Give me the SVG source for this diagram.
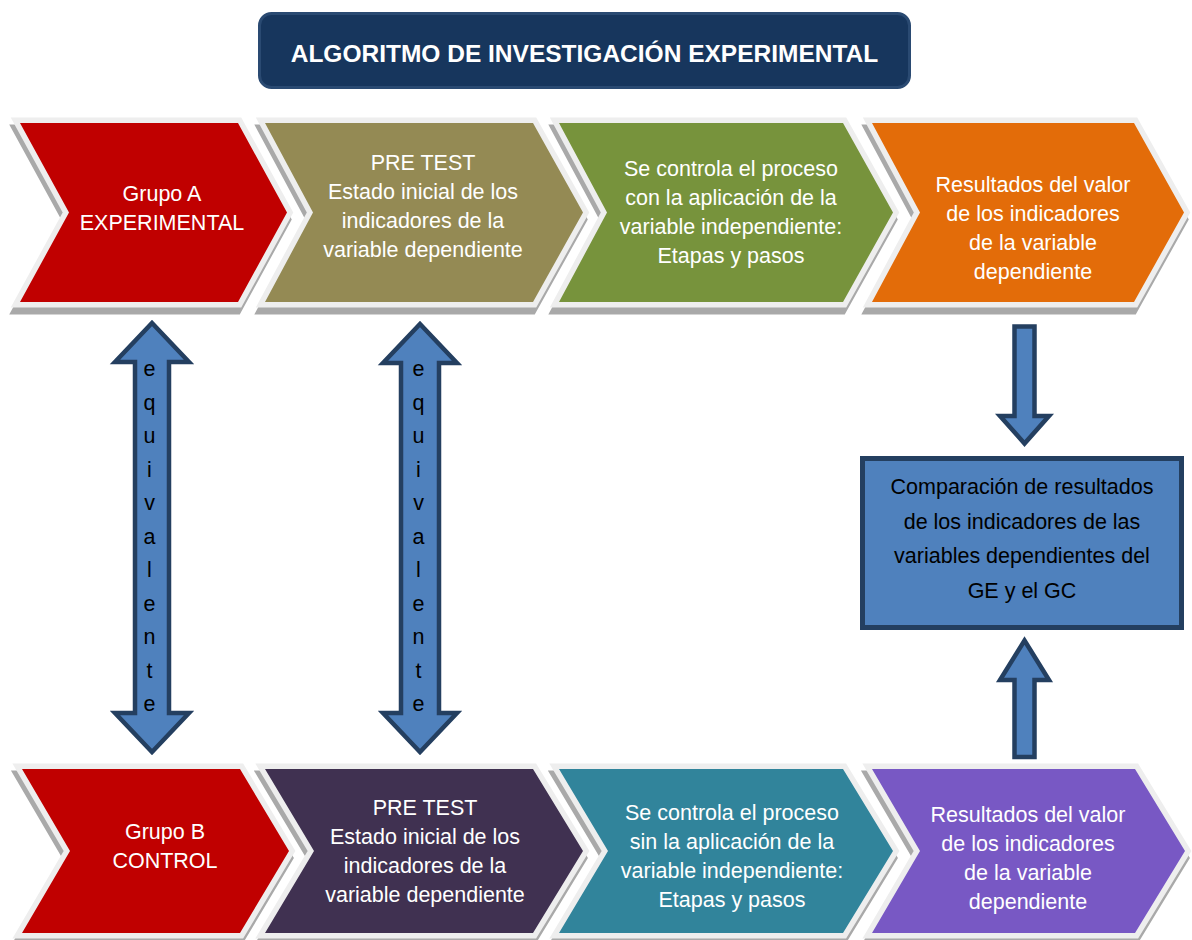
<svg xmlns="http://www.w3.org/2000/svg" width="1192" height="940" viewBox="0 0 1192 940">
<style>
  .sh { fill: #a9a9a9; stroke: #a9a9a9; stroke-width: 11; stroke-linejoin: miter; }
  .ch { stroke: #eeeeee; stroke-width: 11; stroke-linejoin: miter; paint-order: stroke; }
  .t { font-family: "Liberation Sans", Arial, sans-serif; font-size: 21.5px; fill: #ffffff; text-anchor: middle; }
  .k { font-family: "Liberation Sans", Arial, sans-serif; font-size: 21.5px; fill: #000000; text-anchor: middle; }
  .arr { fill: #4f81bd; stroke: #243f60; stroke-width: 4.5; stroke-linejoin: miter; }
  .ttl { font-family: "Liberation Sans", Arial, sans-serif; font-size: 24.5px; font-weight: bold; fill: #ffffff; text-anchor: middle; }
</style>
<rect width="1192" height="940" fill="#ffffff"/>

<g id="title">
  <rect x="259.5" y="13.5" width="650" height="74" rx="12" fill="#17365d" stroke="#2a4a72" stroke-width="3"/>
  <text class="ttl" x="584.5" y="62">ALGORITMO DE INVESTIGACIÓN EXPERIMENTAL</text>
</g>

<g id="ge-grupo">
  <polygon class="sh" transform="translate(-1.5,7)" points="20,123 238,123 287,212.5 238,302 20,302 69,212.5"/>
  <polygon class="ch" fill="#c00000" points="20,123 238,123 287,212.5 238,302 20,302 69,212.5"/>
  <text class="t"><tspan x="162" y="201">Grupo A</tspan><tspan x="162" y="230">EXPERIMENTAL</tspan></text>
</g>
<g id="ge-pretest">
  <polygon class="sh" transform="translate(-1.5,7)" points="265,123 533,123 583,212.5 533,302 265,302 313,212.5"/>
  <polygon class="ch" fill="#948a54" points="265,123 533,123 583,212.5 533,302 265,302 313,212.5"/>
  <text class="t"><tspan x="423" y="170">PRE TEST</tspan><tspan x="423" y="199">Estado inicial de los</tspan><tspan x="423" y="228">indicadores de la</tspan><tspan x="423" y="257">variable dependiente</tspan></text>
</g>
<g id="ge-proceso">
  <polygon class="sh" transform="translate(-1.5,7)" points="559,123 843,123 893,212.5 843,302 559,302 607,212.5"/>
  <polygon class="ch" fill="#77933c" points="559,123 843,123 893,212.5 843,302 559,302 607,212.5"/>
  <text class="t"><tspan x="731" y="176">Se controla el proceso</tspan><tspan x="731" y="205">con la aplicación de la</tspan><tspan x="731" y="234">variable independiente:</tspan><tspan x="731" y="263">Etapas y pasos</tspan></text>
</g>
<g id="ge-resultados">
  <polygon class="sh" transform="translate(-1.5,7)" points="872,123 1134,123 1184,212.5 1134,302 872,302 920,212.5"/>
  <polygon class="ch" fill="#e36c09" points="872,123 1134,123 1184,212.5 1134,302 872,302 920,212.5"/>
  <text class="t"><tspan x="1033" y="192">Resultados del valor</tspan><tspan x="1033" y="221">de los indicadores</tspan><tspan x="1033" y="250">de la variable</tspan><tspan x="1033" y="279">dependiente</tspan></text>
</g>

<g id="comparacion">
  <rect x="862.5" y="458.5" width="319" height="169" fill="#4f81bd" stroke="#243f60" stroke-width="5"/>
  <text class="k"><tspan x="1022" y="494">Comparación de resultados</tspan><tspan x="1022" y="528.5">de los indicadores de las</tspan><tspan x="1022" y="563">variables dependientes del</tspan><tspan x="1022" y="597.5">GE y el GC</tspan></text>
</g>

<g id="connectors">
  <g id="equiv-1">
    <path class="arr" d="M152,323 L189,362 L169,362 L169,713 L189,713 L152,752 L115,713 L135,713 L135,362 L115,362 Z"/>
    <text class="k"><tspan x="149.5" y="376">e</tspan><tspan x="149.5" y="409.5">q</tspan><tspan x="149.5" y="443">u</tspan><tspan x="149.5" y="476.5">i</tspan><tspan x="149.5" y="510">v</tspan><tspan x="149.5" y="543.5">a</tspan><tspan x="149.5" y="577">l</tspan><tspan x="149.5" y="610.5">e</tspan><tspan x="149.5" y="644">n</tspan><tspan x="149.5" y="677.5">t</tspan><tspan x="149.5" y="711">e</tspan></text>
  </g>
  <g id="equiv-2">
    <path class="arr" d="M420,324 L457,363 L439,363 L439,713 L457,713 L420,752 L383,713 L401,713 L401,363 L383,363 Z"/>
    <text class="k"><tspan x="418.5" y="376">e</tspan><tspan x="418.5" y="409.5">q</tspan><tspan x="418.5" y="443">u</tspan><tspan x="418.5" y="476.5">i</tspan><tspan x="418.5" y="510">v</tspan><tspan x="418.5" y="543.5">a</tspan><tspan x="418.5" y="577">l</tspan><tspan x="418.5" y="610.5">e</tspan><tspan x="418.5" y="644">n</tspan><tspan x="418.5" y="677.5">t</tspan><tspan x="418.5" y="711">e</tspan></text>
  </g>
  <path id="arrow-down" class="arr" d="M1014.5,326.5 L1034.5,326.5 L1034.5,416 L1049,416 L1024.5,443.5 L1000,416 L1014.5,416 Z"/>
  <path id="arrow-up" class="arr" d="M1024.5,640.5 L1049,680 L1034.5,680 L1034.5,757 L1014.5,757 L1014.5,680 L1000,680 Z"/>
</g>

<g id="gc-grupo">
  <polygon class="sh" transform="translate(-1.5,7)" points="22,769 240,769 289,851 240,933 22,933 70,851"/>
  <polygon class="ch" fill="#c00000" points="22,769 240,769 289,851 240,933 22,933 70,851"/>
  <text class="t"><tspan x="165" y="839">Grupo B</tspan><tspan x="165" y="868">CONTROL</tspan></text>
</g>
<g id="gc-pretest">
  <polygon class="sh" transform="translate(-1.5,7)" points="265,769 533,769 583,851 533,933 265,933 314,851"/>
  <polygon class="ch" fill="#403151" points="265,769 533,769 583,851 533,933 265,933 314,851"/>
  <text class="t"><tspan x="425" y="815">PRE TEST</tspan><tspan x="425" y="844">Estado inicial de los</tspan><tspan x="425" y="873">indicadores de la</tspan><tspan x="425" y="902">variable dependiente</tspan></text>
</g>
<g id="gc-proceso">
  <polygon class="sh" transform="translate(-1.5,7)" points="559,769 843,769 893,851 843,933 559,933 608,851"/>
  <polygon class="ch" fill="#31849b" points="559,769 843,769 893,851 843,933 559,933 608,851"/>
  <text class="t"><tspan x="732" y="820">Se controla el proceso</tspan><tspan x="732" y="849">sin la aplicación de la</tspan><tspan x="732" y="878">variable independiente:</tspan><tspan x="732" y="907">Etapas y pasos</tspan></text>
</g>
<g id="gc-resultados">
  <polygon class="sh" transform="translate(-1.5,7)" points="872,769 1135,769 1185,851 1135,933 872,933 920,851"/>
  <polygon class="ch" fill="#7858c4" points="872,769 1135,769 1185,851 1135,933 872,933 920,851"/>
  <text class="t"><tspan x="1028" y="822">Resultados del valor</tspan><tspan x="1028" y="851">de los indicadores</tspan><tspan x="1028" y="880">de la variable</tspan><tspan x="1028" y="909">dependiente</tspan></text>
</g>
</svg>
